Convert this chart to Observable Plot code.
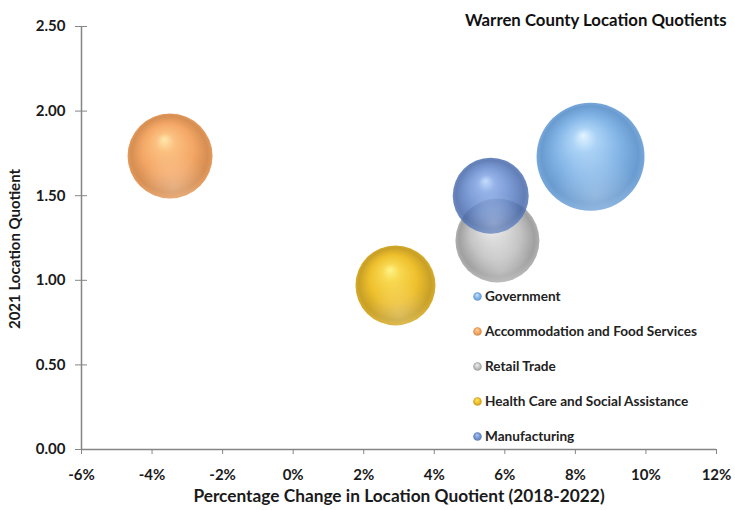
<!DOCTYPE html>
<html>
<head>
<meta charset="utf-8">
<script src="https://cdn.jsdelivr.net/npm/d3@7"></script>
<script src="https://cdn.jsdelivr.net/npm/@observablehq/plot@0.6"></script>
<style>
  html, body { margin: 0; padding: 0; background: #fff; }
  #wrap { position: relative; width: 735px; height: 510px; overflow: hidden; font-family: Lato, "Open Sans", sans-serif; }
  #title { position: absolute; left: 465px; top: 9px; font-weight: 700; font-size: 16.8px; color: #111; white-space: nowrap; }
  #legend { position: absolute; left: 472px; top: 278.5px; }
  .item { display: flex; align-items: center; height: 35px; font-weight: 700; font-size: 13.6px; color: #222; white-space: nowrap; }
  .item svg { margin-right: 2px; }
</style>
</head>
<body>
<div id="wrap">
  <div id="chart"></div>
  <div id="title">Warren County Location Quotients</div>
  <div id="legend"></div>
</div>
<script>
// ---- data ----
const categories = ["Government", "Accommodation and Food Services", "Retail Trade", "Health Care and Social Assistance", "Manufacturing"];
const pctChange = [0.0843, -0.0349, 0.0579, 0.029, 0.056];   // 2018-2022 change in LQ
const lq2021 = [1.73, 1.735, 1.235, 0.97, 1.50];              // 2021 location quotient
const bubbleSize = [2916, 1806, 1764, 1600, 1444];            // bubble size (relative)
const xTicks = [-0.06, -0.04, -0.02, 0, 0.02, 0.04, 0.06, 0.08, 0.10, 0.12];
const yTicks = [0, 0.5, 1.0, 1.5, 2.0, 2.5];

// ---- styles (gradient palettes) ----
const palettes = [
  {hi: "#e2f4ff", light: "#acd3f6", base: "#82b4e6", dark: "#6a9bd0", edge: "#78a8da", op: 1},   // Government
  {hi: "#ffe8ae", light: "#fbc080", base: "#f4a766", dark: "#d68e52", edge: "#e49a5c", op: 1},   // Accommodation
  {hi: "#fafafa", light: "#e0e0e0", base: "#c4c4c4", dark: "#a0a0a0", edge: "#b0b0b0", op: 1},   // Retail
  {hi: "#fff488", light: "#f8d850", base: "#eebf2c", dark: "#c8a026", edge: "#d8ac2a", op: 1},   // Health
  {hi: "#b8d6fc", light: "#82a4e4", base: "#5f84ca", dark: "#4566a8", edge: "#5074b8", op: 0.84} // Manufacturing
];

const data = categories.map((c, i) => ({cat: c, x: pctChange[i], y: lq2021[i], s: bubbleSize[i]}));

const defs = `<defs>${palettes.map((p, i) => `
  <radialGradient id="g${i}" cx="50%" cy="50%" r="50%" fx="43%" fy="30%">
    <stop offset="0%" stop-color="${p.hi}" stop-opacity="${p.op}"/>
    <stop offset="22%" stop-color="${p.light}" stop-opacity="${p.op}"/>
    <stop offset="60%" stop-color="${p.base}" stop-opacity="${p.op}"/>
    <stop offset="90%" stop-color="${p.dark}" stop-opacity="${p.op}"/>
    <stop offset="100%" stop-color="${p.edge}" stop-opacity="${p.op}"/>
  </radialGradient>`).join("")}
  <radialGradient id="shine" cx="55%" cy="86%" r="40%">
    <stop offset="0%" stop-color="#ffffff" stop-opacity="0.25"/>
    <stop offset="100%" stop-color="#ffffff" stop-opacity="0"/>
  </radialGradient>
</defs>`;

const font = "Lato, 'Open Sans', sans-serif";
const axisColor = "#858585";
const pct = d => `${Math.round(d * 100)}%`;

const chart = Plot.plot({
  width: 735,
  height: 510,
  marginLeft: 81,
  marginRight: 19,
  marginTop: 26,
  marginBottom: 61,
  style: {fontFamily: font, background: "#fff", color: "#1a1a1a"},
  x: {domain: [-0.06, 0.12]},
  y: {domain: [0, 2.5]},
  r: {domain: [0, 2916], range: [0, 54]},
  color: {domain: categories, range: categories.map((_, i) => `url(#g${i})`)},
  marks: [
    Plot.ruleY([0], {stroke: axisColor, strokeWidth: 1.5}),
    Plot.ruleX([-0.06], {stroke: axisColor, strokeWidth: 1.5}),
    Plot.axisX({ticks: xTicks, tickFormat: pct, tickSize: 5, tickPadding: 15, stroke: axisColor,
      fontSize: 15, fontWeight: 700, fill: "#1a1a1a", label: null}),
    Plot.axisY({ticks: yTicks, tickFormat: d3.format(".2f"), tickSize: 6, tickPadding: 10, stroke: axisColor,
      fontSize: 15, fontWeight: 700, fill: "#1a1a1a", label: null}),
    Plot.axisY({ticks: yTicks, tickSize: 6, stroke: axisColor, text: null, dx: 6, label: null}),
    Plot.dot(data, {x: "x", y: "y", r: "s", fill: "cat", stroke: null, sort: null}),
    Plot.dot(data, {x: "x", y: "y", r: "s", fill: () => "url(#shine)", sort: null}),
    Plot.text(["Percentage Change in Location Quotient (2018-2022)"], {frameAnchor: "bottom", dy: 52, fontSize: 17.3, fontWeight: 700, fill: "#1a1a1a"}),
    Plot.text(["2021 Location Quotient"], {frameAnchor: "left", textAnchor: "middle", dx: -66, dy: 11, rotate: -90, fontSize: 15, fontWeight: 700, fill: "#1a1a1a"})
  ]
});

chart.insertAdjacentHTML("afterbegin", defs);
document.getElementById("chart").appendChild(chart);

// legend built from categories
const legend = d3.select("#legend");
categories.forEach((c, i) => {
  const it = legend.append("div").attr("class", "item");
  it.append("svg").attr("width", 11).attr("height", 11)
    .append("circle").attr("cx", 5.5).attr("cy", 5.5).attr("r", 4.3).attr("fill", `url(#g${i})`);
  it.append("span").text(c);
});
</script>
</body>
</html>
